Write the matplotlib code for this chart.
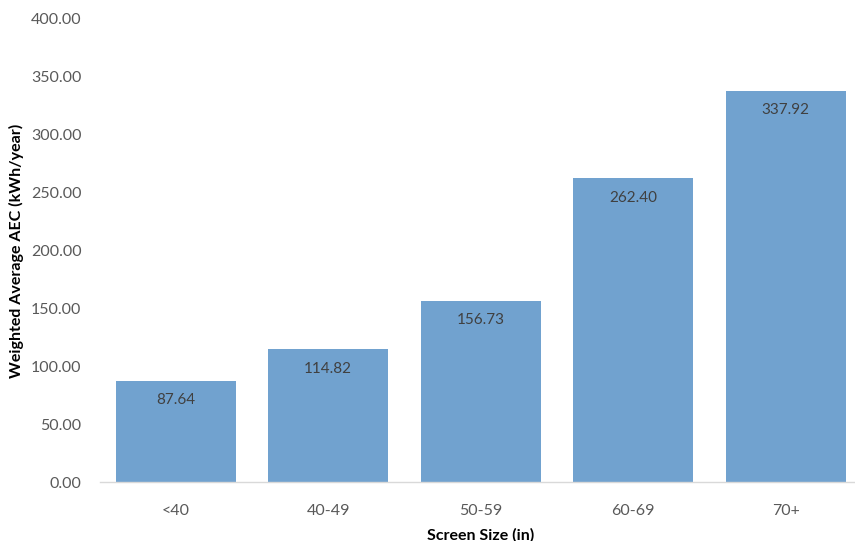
import matplotlib
matplotlib.use("Agg")
import matplotlib.pyplot as plt

categories = ["<40", "40-49", "50-59", "60-69", "70+"]
values = [87.64, 114.82, 156.73, 262.40, 337.92]
yticks = [0, 50, 100, 150, 200, 250, 300, 350, 400]

plt.rcParams['font.family'] = ['Lato', 'DejaVu Sans']

fig = plt.figure(figsize=(8.55, 5.41), dpi=100)
ax = fig.add_axes([99.5/855, 59/541, 762.5/855, 463/541])

x = range(len(categories))
bars = ax.bar(x, values, width=0.79, color="#71A2CF", zorder=2)
ax.set_xlim(-0.5, len(categories) - 0.5)
ax.set_ylim(0, 400)
ax.set_yticks(yticks)
ax.set_yticklabels([f"{v:.2f}" for v in yticks])
ax.set_xticks(list(x))
ax.set_xticklabels(categories)

for s in ["top", "right", "left"]:
    ax.spines[s].set_visible(False)
ax.spines["bottom"].set_color("#D9D9D9")
ax.spines["bottom"].set_linewidth(1.0)
ax.tick_params(axis="both", length=0, labelsize=11.5, colors="#595959")
ax.tick_params(axis="y", pad=13)
ax.tick_params(axis="x", pad=16)

for b, v in zip(bars, values):
    ax.annotate(f"{v:.2f}", (b.get_x() + b.get_width()/2, v), xytext=(0, -14),
                textcoords="offset points", ha="center", va="center",
                fontsize=11, color="#404040")

ax.set_ylabel("Weighted Average AEC (kWh/year)", fontsize=11.5, fontweight="bold", color="black", labelpad=5)
ax.set_xlabel("Screen Size (in)", fontsize=11.5, fontweight="bold", color="black", labelpad=7)

fig.savefig("out.png", dpi=100)
